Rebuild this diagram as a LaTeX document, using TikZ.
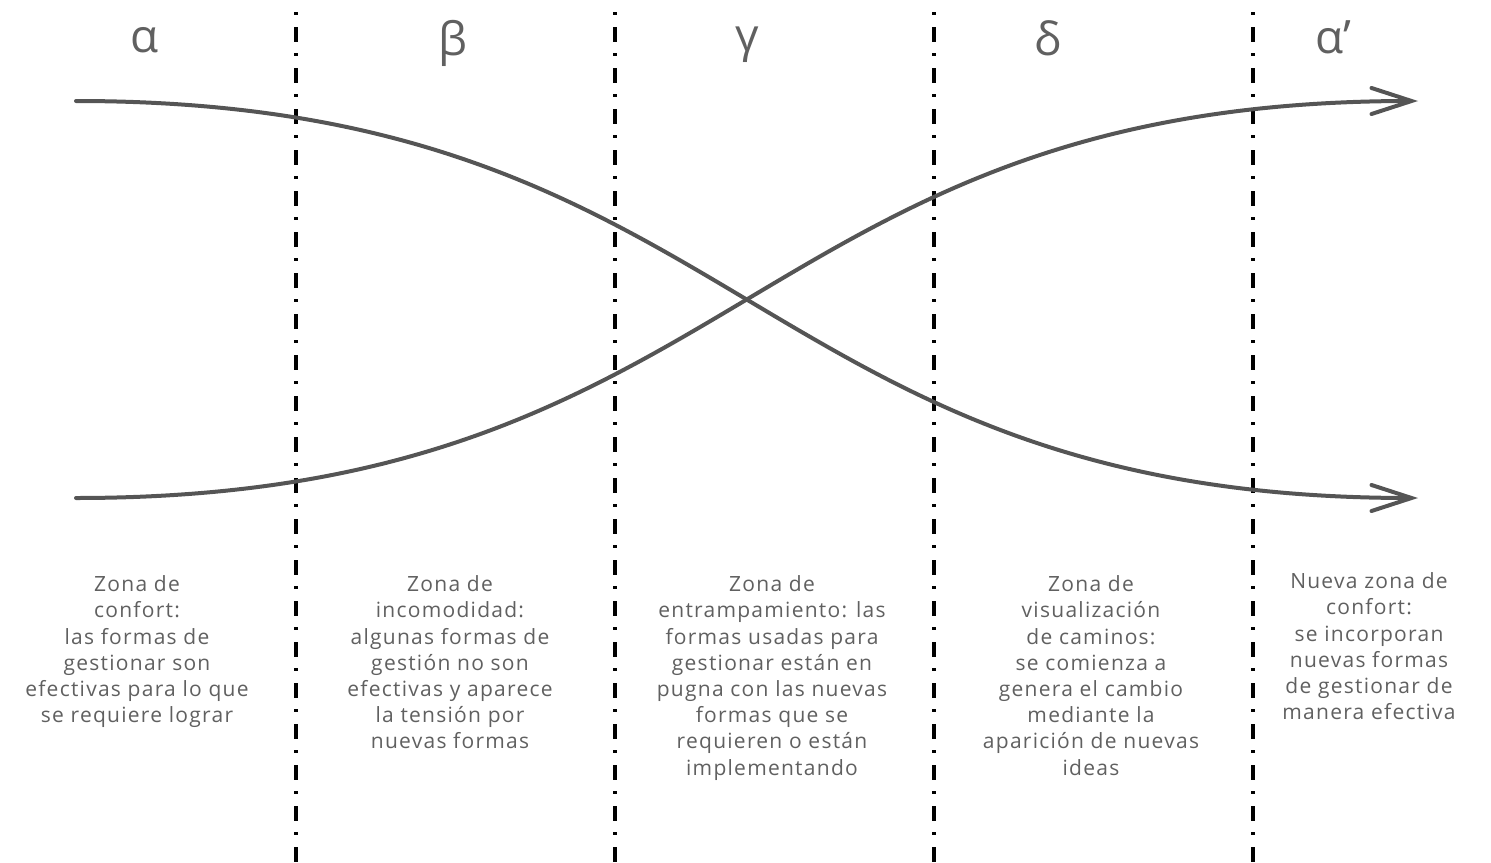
\documentclass[tikz,border=0pt]{standalone}
\usepackage{fontspec}
\setmainfont{Open Sans}
\newfontfamily\zonefont[LetterSpace=6]{Open Sans}
\usetikzlibrary{arrows.meta}
\definecolor{curvegray}{HTML}{555555}
\definecolor{textgray}{HTML}{606060}
\tikzset{
  divider/.style={line width=4pt, black, dash pattern=on 3pt off 12pt on 15pt off 11pt},
  flow/.style={line width=4pt, curvegray, line cap=round,
    -{Straight Barb[length=40pt,width=26pt,line width=4pt,line cap=round]}},
  greek/.style={text=textgray, font=\fontsize{46}{52}\selectfont, inner sep=0pt},
  zone/.style={text=textgray, font=\zonefont\fontsize{21}{26.2}\selectfont, align=center, inner sep=0pt, anchor=north},
}
\begin{document}
\begin{tikzpicture}[x=1pt,y=-1pt]
\useasboundingbox (0,0) rectangle (1491,862);
% dividers
\foreach \i/\xx in {1/296,2/615,3/934,4/1253}{
  \coordinate (t\i) at (\xx,12);
  \coordinate (d\i) at (\xx,862);
  \draw[divider] (t\i) -- (d\i);
}
% headers
\node[greek] (ha) at (145,40) {α};
\node[greek] (hb) at (453,43) {β};
\node[greek] (hc) at (747,45) {γ};
\node[greek] (hd) at (1048,38) {δ};
\node[greek] (he) at (1333,37) {α’};
% curves
\coordinate (a1) at (76,101);
\coordinate (b1) at (1418,498);
\coordinate (a2) at (76,498);
\coordinate (b2) at (1418,101);
\draw[flow] (a1) .. controls (748,101) and (748,498) .. (b1);
\draw[flow] (a2) .. controls (748,498) and (748,101) .. (b2);
% zone texts
\node[zone] (z1) at (137,575.5) {Zona de\\confort:\\las formas de\\gestionar son\\efectivas para lo que\\se requiere lograr};
\node[zone] (z2) at (450,575.5) {Zona de\\incomodidad:\\algunas formas de\\gestión no son\\efectivas y aparece\\la tensión por\\nuevas formas};
\node[zone] (z3) at (772,575.5) {Zona de\\entrampamiento: las\\formas usadas para\\gestionar están en\\pugna con las nuevas\\formas que se\\requieren o están\\implementando};
\node[zone] (z4) at (1091,575.5) {Zona de\\visualización\\de caminos:\\se comienza a\\genera el cambio\\mediante la\\aparición de nuevas\\ideas};
\node[zone] (z5) at (1369,572.5) {Nueva zona de\\confort:\\se incorporan\\nuevas formas\\de gestionar de\\manera efectiva};
\end{tikzpicture}
\end{document}
